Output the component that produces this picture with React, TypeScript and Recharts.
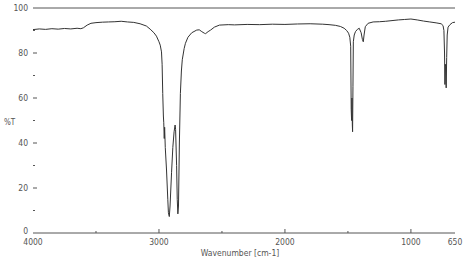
import React from 'react';
import { LineChart, Line, XAxis, YAxis, ReferenceLine } from 'recharts';

// wavenumber (cm-1) and transmittance (%T)
const wavenumbers = [
  4000, 3950, 3900, 3850, 3800, 3750, 3700, 3650, 3620, 3600, 3570, 3540, 3500, 3450, 3400, 3350, 3300,
  3250, 3200, 3150, 3100, 3070, 3040, 3020, 3000, 2990, 2980, 2975, 2970, 2965, 2962, 2958, 2955, 2950,
  2940, 2930, 2925, 2918, 2912, 2900, 2890, 2880, 2872, 2868, 2860, 2855, 2850, 2845, 2838, 2830, 2822,
  2815, 2800, 2790, 2770, 2740, 2700, 2680, 2660, 2640, 2630, 2610, 2590, 2560, 2520, 2450, 2400, 2300,
  2200, 2100, 2000, 1900, 1800, 1700, 1650, 1600, 1560, 1530, 1510, 1495, 1485, 1478, 1474, 1471, 1468,
  1465, 1463, 1460, 1457, 1450, 1440, 1425, 1410, 1395, 1385, 1378, 1372, 1362, 1340, 1300, 1250, 1200,
  1150, 1100, 1050, 1000, 950, 900, 850, 800, 760, 745, 738, 733, 730, 727, 724, 720, 716, 712, 705, 690,
  670, 650,
];
const transmittance = [
  90.4, 90.7, 90.5, 90.8, 90.6, 90.9, 90.7, 91.0, 90.8, 91.2, 92.4, 93.2, 93.5, 93.7, 93.8, 93.9, 94.1,
  93.8, 93.6, 93.0, 92.0, 90.6, 89.0, 87.5, 85.0, 83.5, 80.5, 75, 62, 52, 49, 42, 47, 38,
  28, 15, 9, 7.3, 12, 27, 38, 45, 48, 46, 30, 15, 8.5, 12, 40, 62, 72,
  77, 82, 84.3, 87, 89, 90.2, 90.3, 89.5, 88.8, 88.6, 89.5, 90.2, 91.5, 92.4, 92.6, 92.5, 92.7,
  92.6, 92.8, 92.7, 92.9, 93.0, 92.8, 92.6, 92.3, 91.8, 91.0, 90.0, 88.8, 87.0, 83, 55, 50, 60,
  48, 45, 65, 85, 88, 89.5, 90.5, 91, 89, 86, 85, 88, 91.7, 93.2, 93.8, 93.9, 94.1,
  94.4, 94.7, 94.9, 95.1, 94.7, 94.2, 93.8, 93.4, 93.0, 92.2, 90, 80, 66, 75, 74, 64.5, 78, 88, 91.5, 92.6,
  93.5, 93.7,
];

const xTicks = [4000, 3500, 3000, 2500, 2000, 1500, 1000, 650];
const xLabelled = [4000, 3000, 2000, 1000, 650];
const yTicks = [0, 10, 20, 30, 40, 50, 60, 70, 80, 90, 100];
const yLabelled = [0, 20, 40, 60, 80, 100];

const data = wavenumbers.map((wn, i) => ({ wn, t: transmittance[i] }));

const FONT = "'Liberation Sans Narrow', 'DejaVu Sans Condensed', sans-serif";
const INK = '#555';

const XTick = (props: any) => {
  const { x, y, payload } = props;
  const v = payload.value;
  const major = xLabelled.includes(v);
  return (
    <g>
      {v !== 4000 && v !== 650 && (
        <line x1={x} y1={y} x2={x} y2={y - (major ? 4 : 2)} stroke={INK} />
      )}
      {major && (
        <text x={x} y={y + 12} textAnchor="middle" fontSize={8.5} fontFamily={FONT} fill={INK}>
          {v}
        </text>
      )}
    </g>
  );
};

const YTick = (props: any) => {
  const { x, y, payload } = props;
  const v = payload.value;
  const major = yLabelled.includes(v);
  return (
    <g>
      {v !== 0 && v !== 100 && (
        <line x1={x} y1={y} x2={x + (major ? 4 : 2)} y2={y} stroke={INK} />
      )}
      {major && (
        <text
          x={x - 5}
          y={v === 0 ? y + 1 : y + 3}
          textAnchor="end"
          fontSize={8.5}
          fontFamily={FONT}
          fill={INK}
        >
          {v}
        </text>
      )}
    </g>
  );
};

const App: React.FC = () => {
  return (
    <div style={{ position: 'absolute', left: 0, top: 0, background: '#fff' }}>
      <LineChart width={464} height={262} data={data} margin={{ top: 8, right: 9, left: 0, bottom: 0 }}>
        <XAxis
          dataKey="wn"
          type="number"
          domain={[650, 4000]}
          reversed
          ticks={xTicks}
          interval={0}
          height={29}
          tickSize={0}
          tickMargin={0}
          tickLine={false}
          axisLine={{ stroke: INK }}
          tick={<XTick />}
          label={{
            value: 'Wavenumber [cm-1]',
            position: 'insideBottom',
            offset: 6,
            dx: -4,
            fontSize: 8.5,
            fontFamily: FONT,
            fill: INK,
          }}
        />
        <YAxis
          type="number"
          domain={[0, 100]}
          ticks={yTicks}
          interval={0}
          width={33}
          tickSize={0}
          tickMargin={0}
          tickLine={false}
          axisLine={false}
          tick={<YTick />}
          label={{
            value: '%T',
            position: 'insideLeft',
            offset: 4,
            dy: 2,
            fontSize: 8,
            fontFamily: FONT,
            fill: INK,
          }}
        />
        <ReferenceLine y={100} stroke={INK} />
        <Line
          type="linear"
          dataKey="t"
          stroke="#333"
          strokeWidth={1}
          dot={false}
          isAnimationActive={false}
        />
      </LineChart>
    </div>
  );
};

export default App;
